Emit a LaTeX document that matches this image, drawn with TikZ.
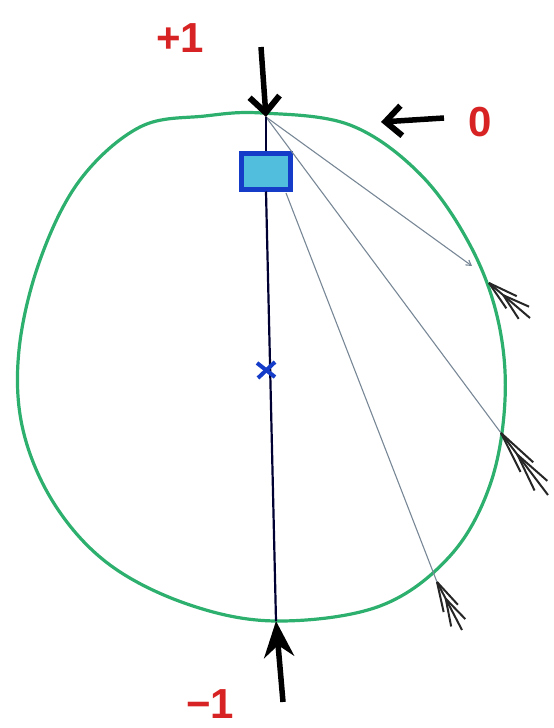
\documentclass[tikz,border=0pt]{standalone}
\usepackage{fontspec}
\newfontfamily\labfont{Liberation Sans}
\usetikzlibrary{arrows.meta,calc}
\definecolor{ringgreen}{RGB}{45,175,110}
\definecolor{penred}{RGB}{215,35,35}
\definecolor{sqblue}{RGB}{20,60,200}
\definecolor{sqfill}{RGB}{80,190,220}
\definecolor{raygray}{RGB}{120,135,150}
\tikzset{
  x=1pt,y=-1pt,
  ring/.style={draw=ringgreen,line width=3.2pt},
  lab/.style={text=penred,font=\labfont\bfseries\fontsize{42}{42}\selectfont},
  bigarrow/.style={draw=black,line width=5.5pt,-{Straight Barb[length=16pt,width=30pt,line width=6pt 0]}},
  filarrow/.style={draw=black,line width=5.5pt,-{Stealth[length=36pt,width=30pt]}},
  ray/.style={draw=raygray,line width=1.1pt},
  axis/.style={draw=black!80!blue,line width=2.2pt},
  fletch/.style={draw=black!85,line width=2pt},
  crossmark/.style={draw=sqblue,line width=4pt},
}
\begin{document}
\begin{tikzpicture}
\useasboundingbox (0,0) rectangle (554,728);
% oval
\draw[ring] plot[smooth cycle,tension=0.6] coordinates {(262,113) (350,125) (420,174) (470,245) (498,320) (505,400) (490,485) (450,556) (380,606) (277,621) (190,605) (110,565) (55,505) (23,430) (19,350) (40,260) (80,180) (140,127) (205,116)};
% points
\coordinate (T) at (266,117);
\coordinate (B) at (276,621);
\node[draw=sqblue,fill=sqfill,line width=5pt,minimum width=49pt,minimum height=36pt,inner sep=0pt] (sq) at (266,171) {};
% rays
\coordinate (r1end) at (472,266);
\coordinate (p1) at (489,283);
\coordinate (q1) at (530,318);
\coordinate (p2) at (501,433);
\coordinate (q2) at (548,495);
\coordinate (s3) at (286,193);
\coordinate (p3) at (437,582);
\coordinate (q3) at (462,630);
\draw[ray,-{Straight Barb[length=5pt,width=6pt]}] (T) -- (r1end);
\draw[ray] (T) -- (p2);
\draw[ray] (s3) -- (p3);
% fletchings
\foreach \p/\q in {p1/q1,p2/q2,p3/q3}{
  \draw[fletch] (\p) -- (\q);
  \draw[fletch] (\p) -- ($(\p)!0.55!(\q)!8pt!90:(\q)$);
  \draw[fletch] (\p) -- ($(\p)!0.55!(\q)!-8pt!90:(\q)$);
  \draw[fletch] ($(\p)!0.35!(\q)$) -- ($(\p)!0.85!(\q)!8pt!90:(\q)$);
  \draw[fletch] ($(\p)!0.35!(\q)$) -- ($(\p)!0.85!(\q)!-8pt!90:(\q)$);
}
% axis
\draw[axis] (T) -- (sq.north);
\draw[axis] (sq.south) -- (B);
\coordinate (star) at (266,370);
\draw[crossmark] ($(star)+(-9,-7)$) -- ($(star)+(9,7)$);
\draw[crossmark] ($(star)+(-8,8)$) -- ($(star)+(9,-8)$);
% arrows
\coordinate (a1s) at (261,47);
\draw[bigarrow] (a1s) -- (T);
\coordinate (a0s) at (444,118);
\coordinate (a0e) at (381,122);
\draw[bigarrow] (a0s) -- (a0e);
\coordinate (ams) at (283,702);
\draw[filarrow] (ams) -- (B);
% labels
\node[lab] (plus) at (180,38) {+1};
\node[lab] (zero) at (480,122) {0};
\node[lab] (minus) at (210,704) {−1};
\end{tikzpicture}
\end{document}
